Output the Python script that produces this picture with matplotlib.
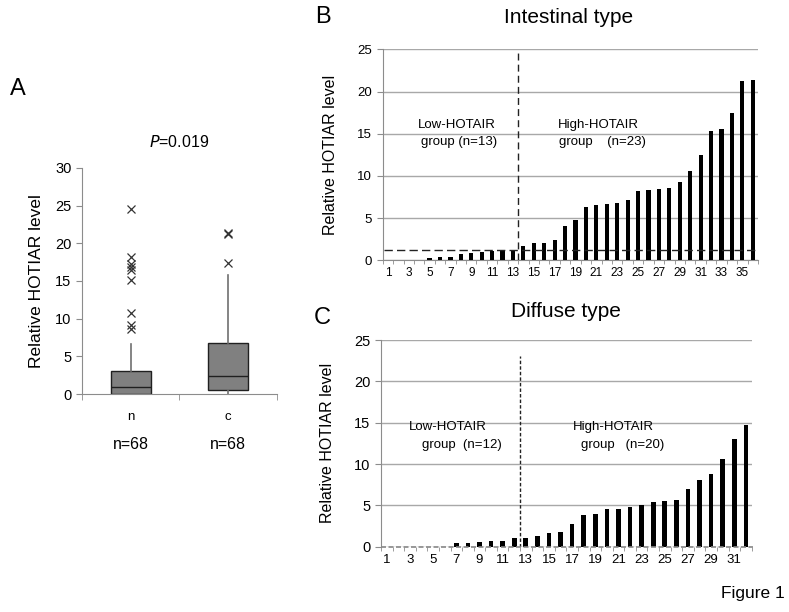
import matplotlib
matplotlib.use('Agg')
import matplotlib.pyplot as plt
import numpy as np

plt.rcParams['font.family'] = ['Liberation Sans', 'DejaVu Sans']

# ---------------- data ----------------
box_labels = ['n', 'c']
box_counts = ['n=68', 'n=68']
box_whislo = [0.0, 0.0]
box_q1 = [0.0, 0.55]
box_med = [0.9, 2.4]
box_q3 = [3.1, 6.75]
box_whishi = [6.7, 15.8]
fliers_n = [24.6, 18.2, 17.3, 16.8, 16.4, 15.1, 10.7, 9.1, 8.6]
fliers_c = [21.3, 21.4, 17.4]

intestinal = [0, 0, 0, 0.02, 0.27, 0.36, 0.4, 0.72, 0.83, 1.0, 1.05, 1.05,
              1.15, 1.7, 2.0, 2.1, 2.4, 4.1, 4.75, 6.35, 6.5, 6.7, 6.75, 7.1,
              8.2, 8.27, 8.4, 8.55, 9.3, 10.6, 12.5, 15.3, 15.6, 17.4, 21.3, 21.4]
intestinal_threshold = 1.2
intestinal_split = 13.5

diffuse = [0, 0, 0, 0, 0, 0, 0.4, 0.45, 0.55, 0.65, 0.7, 1.0,
           1.1, 1.3, 1.65, 1.75, 2.7, 3.8, 4.0, 4.5, 4.6, 4.8, 5.0, 5.4,
           5.5, 5.6, 7.0, 8.1, 8.8, 10.6, 13.0, 14.7]
diffuse_split = 12.5

GRAY = '#8c8c8c'
fig = plt.figure(figsize=(7.89, 6.12), dpi=100)

# ---------------- Panel A ----------------
axA = fig.add_axes([0.1039, 0.3562, 0.2471, 0.3693])
stats = []
for i, lab in enumerate(box_labels):
    stats.append(dict(label=lab, whislo=box_whislo[i], q1=box_q1[i], med=box_med[i],
                      q3=box_q3[i], whishi=box_whishi[i],
                      fliers=[fliers_n, fliers_c][i]))
axA.bxp(stats, positions=[1, 2], widths=0.41, patch_artist=True, showcaps=False,
        boxprops=dict(facecolor='#808080', edgecolor='#202020', linewidth=1),
        medianprops=dict(color='#202020', linewidth=1),
        whiskerprops=dict(color='#707070', linewidth=1.2),
        flierprops=dict(marker='x', markeredgecolor='#333333', markersize=6,
                        markeredgewidth=0.9))
axA.set_xlim(0.5, 2.5)
axA.set_ylim(0, 30)
axA.set_yticks(range(0, 31, 5))
axA.set_xticks([1, 2])
axA.set_xticklabels(box_labels, fontsize=9.5)
axA.set_xticks([0.5, 1.5, 2.5], minor=True)
axA.tick_params(axis='x', which='major', length=0, pad=12)
axA.tick_params(axis='x', which='minor', length=4, color=GRAY, direction='out')
axA.tick_params(axis='y', length=4, color=GRAY, labelsize=10.5)
for s in ['top', 'right']:
    axA.spines[s].set_visible(False)
for s in ['left', 'bottom']:
    axA.spines[s].set_color(GRAY)
axA.set_ylabel('Relative HOTIAR level', fontsize=12.5, labelpad=8)
axA.text(1.5, 33.5, r'$\it{P}$=0.019', ha='center', va='center', fontsize=11.5,
         clip_on=False)
for i, t in enumerate(box_counts):
    axA.text(i + 1, -6.7, t, ha='center', va='center', fontsize=11.5)
fig.text(0.012, 0.855, 'A', fontsize=17, ha='left', va='center')


def bar_panel(ax, vals, split, vtop, vdash, xfs, yfs):
    x = np.arange(1, len(vals) + 1)
    ax.bar(x, vals, width=0.4, color='black', zorder=3)
    ax.set_xlim(0.5, len(vals) + 0.5)
    ax.set_ylim(0, 25)
    ax.set_yticks(range(0, 26, 5))
    ax.yaxis.grid(True, color='#a8a8a8', linewidth=1)
    ax.set_axisbelow(True)
    ax.set_xticks(x[::2])
    ax.set_xticklabels([str(v) for v in x[::2]], fontsize=xfs)
    ax.set_xticks(np.arange(0.5, len(vals) + 1, 1), minor=True)
    ax.tick_params(axis='x', which='major', length=0, pad=5)
    ax.tick_params(axis='x', which='minor', length=3, color=GRAY)
    ax.tick_params(axis='y', length=4, color=GRAY, labelsize=yfs)
    for s in ['top', 'right']:
        ax.spines[s].set_visible(False)
    for s in ['left', 'bottom']:
        ax.spines[s].set_color(GRAY)
    ax.plot([split, split], [0, vtop], color='#222222', linewidth=1,
            dashes=vdash, zorder=4)
    ax.set_ylabel('Relative HOTIAR level', fontsize=11.5, labelpad=14)


# ---------------- Panel B ----------------
axB = fig.add_axes([0.485, 0.5747, 0.4757, 0.3447])
bar_panel(axB, intestinal, intestinal_split, 25, (5, 3), 8.5, 9.5)
axB.plot([0.6, 36.3], [intestinal_threshold, intestinal_threshold],
         color='#222222', linewidth=1, dashes=(6, 3), zorder=4)
axB.text(7.6, 16.0, 'Low-HOTAIR', ha='center', va='center', fontsize=9.5)
axB.text(7.8, 14.0, 'group (n=13)', ha='center', va='center', fontsize=9.5)
axB.text(21.2, 16.0, 'High-HOTAIR', ha='center', va='center', fontsize=9.5)
axB.text(21.6, 14.0, 'group    (n=23)', ha='center', va='center', fontsize=9.5)
fig.text(0.72, 0.972, 'Intestinal type', ha='center', va='center', fontsize=15)
fig.text(0.400, 0.973, 'B', fontsize=17, ha='left', va='center')

# ---------------- Panel C ----------------
axC = fig.add_axes([0.4829, 0.1067, 0.4698, 0.3377])
bar_panel(axC, diffuse, diffuse_split, 23.1, (2.5, 1.5), 9.5, 10.5)
axC.spines['bottom'].set_visible(False)
axC.plot([0.5, 32.6], [0, 0], color='#888888', linewidth=1.2, dashes=(3, 1.5),
         zorder=4, clip_on=False)
axC.text(6.3, 14.5, 'Low-HOTAIR', ha='center', va='center', fontsize=9.5)
axC.text(7.5, 12.3, 'group  (n=12)', ha='center', va='center', fontsize=9.5)
axC.text(20.6, 14.5, 'High-HOTAIR', ha='center', va='center', fontsize=9.5)
axC.text(21.4, 12.3, 'group   (n=20)', ha='center', va='center', fontsize=9.5)
fig.text(0.717, 0.491, 'Diffuse type', ha='center', va='center', fontsize=15)
fig.text(0.398, 0.48, 'C', fontsize=17, ha='left', va='center')

fig.text(0.995, 0.03, 'Figure 1', ha='right', va='center', fontsize=12.5)

fig.savefig('out.png', dpi=100)
